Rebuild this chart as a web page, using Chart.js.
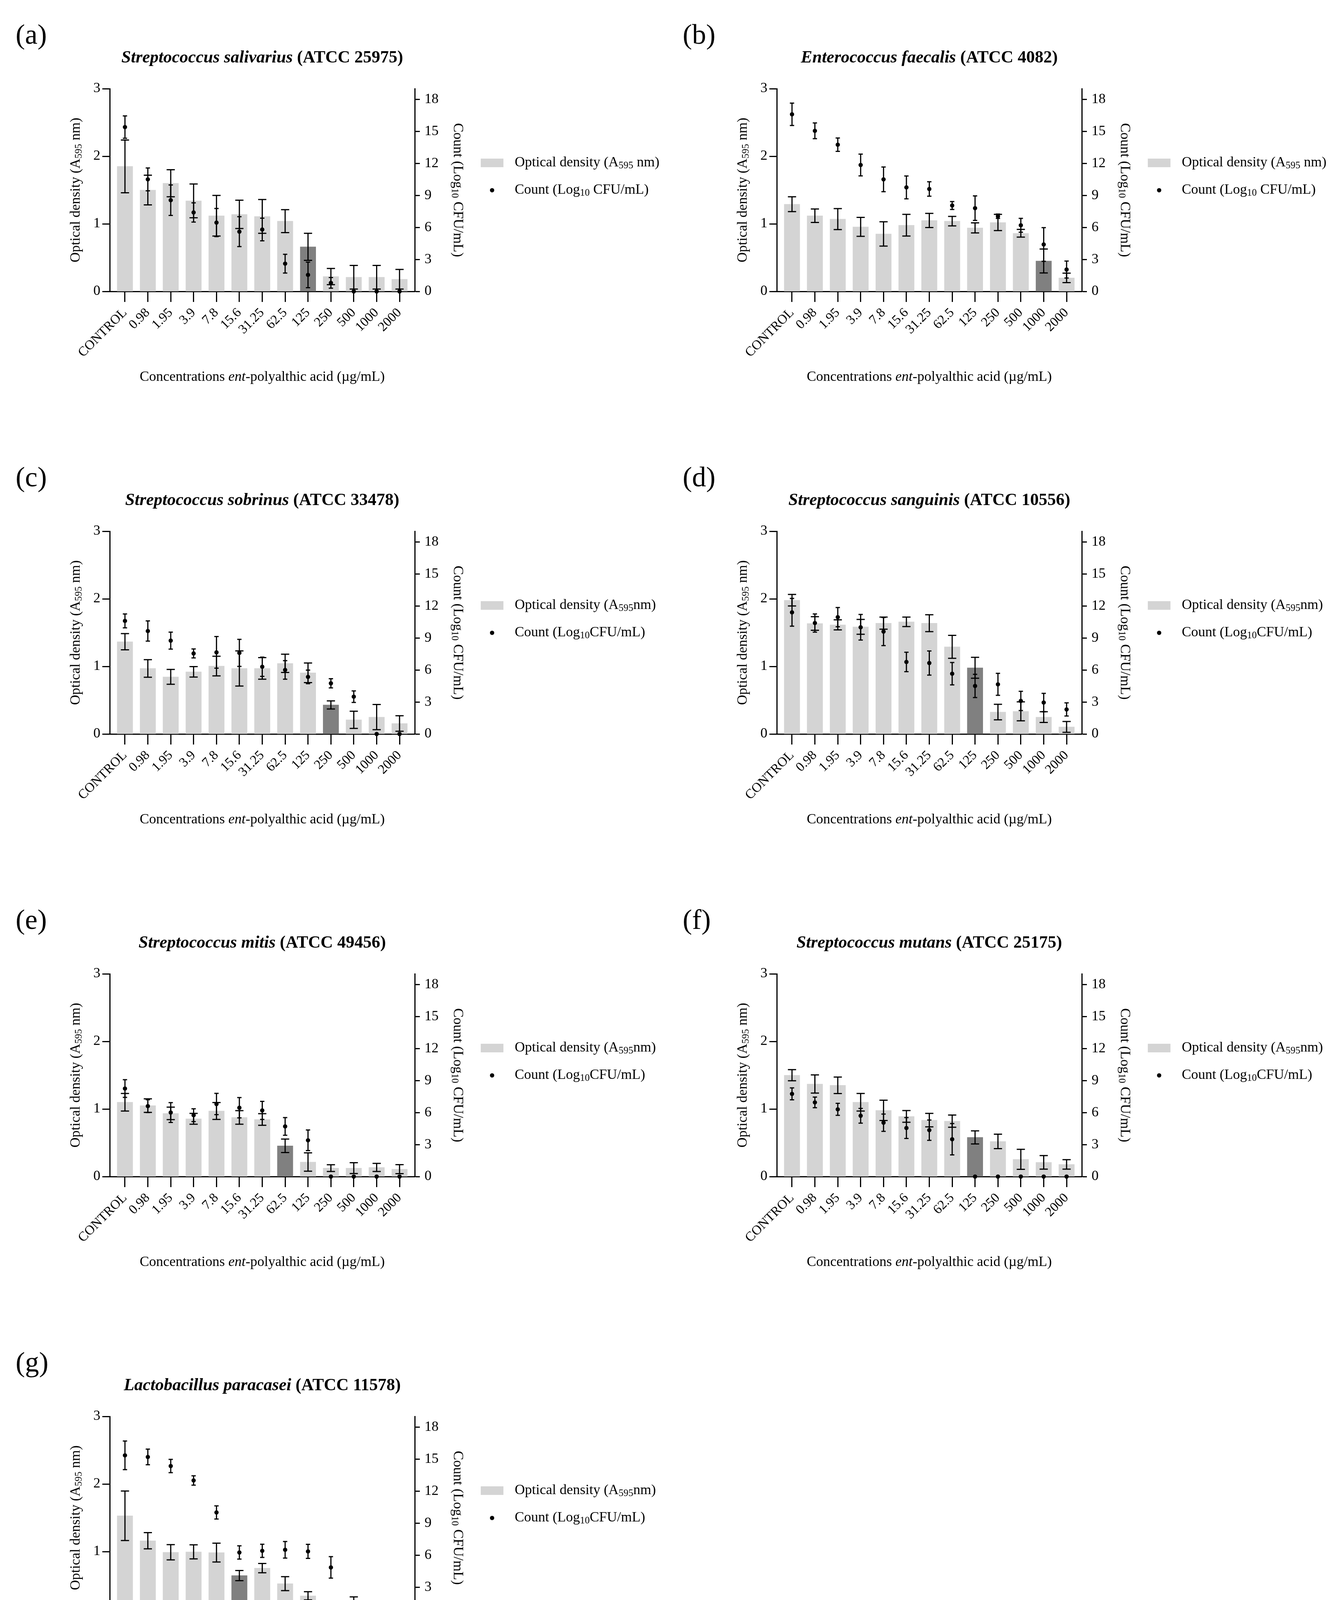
<!DOCTYPE html>
<html>
<head>
<meta charset="utf-8">
<script src="https://cdn.jsdelivr.net/npm/chart.js@4.4.1/dist/chart.umd.min.js"></script>
<style>
  html, body { margin: 0; padding: 0; background: #fff; }
  body { width: 3426px; height: 4424px; position: relative; overflow: hidden; }
  canvas { position: absolute; }
</style>
</head>
<body>
<script>
// ---- data ----
const categories = ['CONTROL', '0.98', '1.95', '3.9', '7.8', '15.6', '31.25', '62.5', '125', '250', '500', '1000', '2000'];
const odTicks = [0, 1, 2, 3];
const countTicks = [0, 3, 6, 9, 12, 15, 18];

const letters = ['(a)', '(b)', '(c)', '(d)', '(e)', '(f)', '(g)'];
const species = ['Streptococcus salivarius', 'Enterococcus faecalis', 'Streptococcus sobrinus', 'Streptococcus sanguinis',
                 'Streptococcus mitis', 'Streptococcus mutans', 'Lactobacillus paracasei'];
const strains = ['(ATCC 25975)', '(ATCC 4082)', '(ATCC 33478)', '(ATCC 10556)', '(ATCC 49456)', '(ATCC 25175)', '(ATCC 11578)'];
const darkBar = [8, 11, 9, 8, 7, 8, 5];
const spacedLegend = [true, true, false, false, false, false, false];

const odA = [1.85, 1.50, 1.60, 1.34, 1.12, 1.14, 1.11, 1.04, 0.66, 0.22, 0.21, 0.21, 0.18];
const odErrA = [0.39, 0.22, 0.20, 0.25, 0.30, 0.21, 0.25, 0.17, 0.20, 0.12, 0.175, 0.175, 0.145];
const countA = [15.4, 10.5, 8.55, 7.4, 6.45, 5.6, 5.8, 2.6, 1.55, 0.8, 0, 0, 0];
const countErrA = [1.05, 1.07, 1.43, 0.9, 1.32, 1.4, 1.06, 0.88, 1.2, 0.5, 0, 0, 0];

const odB = [1.29, 1.12, 1.07, 0.955, 0.85, 0.98, 1.05, 1.04, 0.94, 1.02, 0.86, 0.45, 0.20];
const odErrB = [0.11, 0.10, 0.155, 0.14, 0.18, 0.16, 0.105, 0.07, 0.075, 0.12, 0.057, 0.177, 0.07];
const countB = [16.6, 15.05, 13.75, 11.85, 10.5, 9.75, 9.6, 8.05, 7.8, 7.05, 6.2, 4.4, 2.05];
const countErrB = [1.05, 0.74, 0.63, 1.02, 1.16, 1.07, 0.68, 0.37, 1.15, 0.2, 0.65, 1.58, 0.8];

const odC = [1.365, 0.97, 0.845, 0.92, 1.005, 0.97, 0.97, 1.045, 0.905, 0.43, 0.21, 0.25, 0.155];
const odErrC = [0.12, 0.13, 0.11, 0.077, 0.145, 0.26, 0.16, 0.135, 0.145, 0.06, 0.127, 0.187, 0.115];
const countC = [10.6, 9.65, 8.75, 7.55, 7.65, 7.6, 6.3, 6.0, 5.35, 4.75, 3.5, 0, 0];
const countErrC = [0.65, 0.95, 0.8, 0.42, 1.48, 1.27, 0.9, 0.87, 0.64, 0.43, 0.54, 0, 0];

const odD = [1.98, 1.635, 1.615, 1.585, 1.64, 1.66, 1.64, 1.29, 0.98, 0.325, 0.335, 0.25, 0.105];
const odErrD = [0.085, 0.10, 0.075, 0.11, 0.09, 0.07, 0.125, 0.17, 0.155, 0.115, 0.14, 0.08, 0.08];
const countD = [11.4, 10.4, 10.95, 10.0, 9.6, 6.75, 6.65, 5.65, 4.5, 4.65, 3.1, 2.95, 2.3];
const countErrD = [1.3, 0.85, 0.9, 1.2, 1.32, 0.91, 1.13, 1.05, 1.09, 1.03, 0.9, 0.86, 0.62];

const odE = [1.10, 1.05, 0.935, 0.855, 0.97, 0.875, 0.845, 0.455, 0.215, 0.125, 0.125, 0.135, 0.11];
const odErrE = [0.13, 0.10, 0.093, 0.08, 0.125, 0.10, 0.086, 0.10, 0.136, 0.05, 0.08, 0.06, 0.066];
const countE = [8.25, 6.6, 6.0, 5.75, 6.8, 6.45, 6.2, 4.7, 3.4, 0, 0, 0, 0];
const countErrE = [0.83, 0.6, 0.93, 0.6, 1.0, 0.95, 0.85, 0.83, 0.97, 0, 0, 0, 0];

const odF = [1.50, 1.37, 1.35, 1.10, 0.98, 0.89, 0.835, 0.82, 0.58, 0.52, 0.255, 0.21, 0.18];
const odErrF = [0.082, 0.135, 0.122, 0.13, 0.15, 0.087, 0.10, 0.09, 0.097, 0.107, 0.148, 0.10, 0.07];
const countF = [7.75, 6.95, 6.3, 5.7, 5.05, 4.55, 4.35, 3.5, 0, 0, 0, 0, 0];
const countErrF = [0.56, 0.5, 0.56, 0.69, 0.81, 0.98, 0.95, 1.47, 0, 0, 0, 0, 0];

const odG = [1.53, 1.16, 0.99, 0.995, 0.985, 0.645, 0.755, 0.525, 0.345, 0.185, 0.22, 0.165, 0.115];
const odErrG = [0.366, 0.12, 0.113, 0.104, 0.14, 0.075, 0.068, 0.103, 0.061, 0.042, 0.11, 0.066, 0.076];
const countG = [15.35, 15.2, 14.35, 13.0, 10.0, 6.25, 6.4, 6.5, 6.35, 4.85, 0, 0, 0];
const countErrG = [1.34, 0.73, 0.62, 0.44, 0.62, 0.62, 0.62, 0.78, 0.66, 1.01, 0, 0, 0];

const odSets = [odA, odB, odC, odD, odE, odF, odG];
const odErrSets = [odErrA, odErrB, odErrC, odErrD, odErrE, odErrF, odErrG];
const countSets = [countA, countB, countC, countD, countE, countF, countG];
const countErrSets = [countErrA, countErrB, countErrC, countErrD, countErrE, countErrF, countErrG];

// ---- drawing ----
const FONT = '"Liberation Serif", "Times New Roman", Times, serif';
const W = 1713, H = 1020;
const LIGHT = '#d4d4d4', DARK = '#808080';

Chart.defaults.font.family = FONT;
Chart.defaults.color = '#000';

// draws a row of text pieces (for subscripts / italics)
function drawRuns(ctx, runs, x, y, align) {
  let total = 0;
  runs.forEach(r => {
    ctx.font = (r.style || '') + ' ' + r.size + 'px ' + FONT;
    r.w = ctx.measureText(r.text).width;
    total += r.w;
  });
  let cx = align === 'center' ? x - total / 2 : x;
  ctx.textAlign = 'left';
  ctx.textBaseline = 'middle';
  runs.forEach(r => {
    ctx.font = (r.style || '') + ' ' + r.size + 'px ' + FONT;
    ctx.fillText(r.text, cx, y + (r.dy || 0));
    cx += r.w;
  });
}

function panelPlugin(k) {
  return {
    id: 'panel' + k,
    afterDatasetsDraw(chart) {
      const ctx = chart.ctx;
      const xs = chart.scales.x, ys = chart.scales.y, y2 = chart.scales.y2;
      ctx.save();
      ctx.strokeStyle = '#000';
      ctx.lineWidth = 3;
      const bar = (px, top, bot, half) => {
        ctx.beginPath();
        ctx.moveTo(px, top); ctx.lineTo(px, bot);
        ctx.moveTo(px - half, top); ctx.lineTo(px + half, top);
        ctx.moveTo(px - half, bot); ctx.lineTo(px + half, bot);
        ctx.stroke();
      };
      odSets[k].forEach((v, i) => {
        const e = odErrSets[k][i];
        if (!e) return;
        bar(xs.getPixelForValue(i), ys.getPixelForValue(v + e), ys.getPixelForValue(v - e), 10.5);
      });
      countSets[k].forEach((v, i) => {
        const e = countErrSets[k][i];
        if (!e) return;
        bar(xs.getPixelForValue(i), y2.getPixelForValue(v + e), y2.getPixelForValue(v - e), 5.5);
      });
      ctx.restore();
    },
    afterDraw(chart) {
      const ctx = chart.ctx;
      const a = chart.chartArea;
      const cx = (a.left + a.right) / 2, cy = (a.top + a.bottom) / 2;
      ctx.save();
      ctx.fillStyle = '#000';

      drawRuns(ctx, [{ text: letters[k], size: 72 }], 40, 93, 'left');
      drawRuns(ctx, [
        { text: species[k] + ' ', size: 44, style: 'italic bold' },
        { text: strains[k], size: 44, style: 'bold' }
      ], cx, 149, 'center');

      // left axis title
      ctx.save();
      ctx.translate(195, cy);
      ctx.rotate(-Math.PI / 2);
      drawRuns(ctx, [
        { text: 'Optical density (A', size: 36 },
        { text: '595', size: 25, dy: 7 },
        { text: ' nm)', size: 36 }
      ], 0, 0, 'center');
      ctx.restore();

      // right axis title
      ctx.save();
      ctx.translate(1171, cy);
      ctx.rotate(Math.PI / 2);
      drawRuns(ctx, [
        { text: 'Count (Log', size: 36 },
        { text: '10', size: 25, dy: 7 },
        { text: ' CFU/mL)', size: 36 }
      ], 0, 0, 'center');
      ctx.restore();

      // x axis title
      drawRuns(ctx, [
        { text: 'Concentrations ', size: 36 },
        { text: 'ent', size: 36, style: 'italic' },
        { text: '-polyalthic acid (\u00b5g/mL)', size: 36 }
      ], cx, a.top + 739, 'center');

      // legend
      const ly = a.top + 190;
      ctx.fillStyle = LIGHT;
      ctx.fillRect(1231, ly - 11, 58, 22);
      ctx.fillStyle = '#000';
      const sp = spacedLegend[k] ? ' ' : '';
      drawRuns(ctx, [
        { text: 'Optical density (A', size: 36 },
        { text: '595', size: 25, dy: 7 },
        { text: sp + 'nm)', size: 36 }
      ], 1318, ly, 'left');
      ctx.beginPath();
      ctx.arc(1260, ly + 70, 5.5, 0, Math.PI * 2);
      ctx.fill();
      drawRuns(ctx, [
        { text: 'Count (Log', size: 36 },
        { text: '10', size: 25, dy: 7 },
        { text: sp + 'CFU/mL)', size: 36 }
      ], 1318, ly + 70, 'left');
      ctx.restore();
    }
  };
}

function axisStyle(tickLen) {
  return {
    border: { display: true, color: '#000', width: 3 },
    grid: { display: true, drawOnChartArea: false, drawTicks: true, tickLength: tickLen, tickWidth: 3, tickColor: '#000', offset: false }
  };
}

for (let k = 0; k < 7; k++) {
  const cv = document.createElement('canvas');
  cv.width = W; cv.height = H;
  cv.style.width = W + 'px'; cv.style.height = H + 'px';
  cv.style.left = (k % 2 === 0 ? 0 : 1708) + 'px';
  cv.style.top = (Math.floor(k / 2) * 1133) + 'px';
  document.body.appendChild(cv);

  new Chart(cv, {
    type: 'bar',
    data: {
      datasets: [
        {
          type: 'scatter',
          label: 'Count',
          data: countSets[k].map((v, i) => ({ x: i, y: v })),
          yAxisID: 'y2',
          pointRadius: 5.5,
          pointBackgroundColor: '#000',
          pointBorderWidth: 0,
          clip: false,
          order: 1
        },
        {
          type: 'bar',
          label: 'Optical density',
          data: odSets[k].map((v, i) => ({ x: i, y: v })),
          yAxisID: 'y',
          backgroundColor: odSets[k].map((v, i) => i === darkBar[k] ? DARK : LIGHT),
          borderWidth: 0,
          barThickness: 40,
          order: 2
        }
      ]
    },
    options: {
      responsive: false,
      animation: false,
      devicePixelRatio: 1,
      layout: { padding: { top: 227, left: 0, right: 0, bottom: 0 } },
      plugins: { legend: { display: false }, tooltip: { enabled: false }, title: { display: false } },
      scales: {
        x: {
          type: 'linear',
          position: 'bottom',
          offset: false,
          min: -0.665,
          max: 12.665,
          z: 1,
          afterBuildTicks: s => { s.ticks = categories.map((c, i) => ({ value: i })); },
          afterFit: s => { s.height = H - 227 - 519; },
          ...axisStyle(27),
          ticks: {
            autoSkip: false, minRotation: 45, maxRotation: 45, padding: 8,
            font: { size: 34 }, color: '#000',
            callback: v => categories[v]
          }
        },
        y: {
          position: 'left',
          min: 0, max: 3,
          afterBuildTicks: s => { s.ticks = odTicks.map(v => ({ value: v })); },
          afterFit: s => { s.width = 281; },
          ...axisStyle(19),
          ticks: { padding: 5, font: { size: 36 }, color: '#000' }
        },
        y2: {
          position: 'right',
          min: 0, max: 19,
          afterBuildTicks: s => { s.ticks = countTicks.map(v => ({ value: v })); },
          afterFit: s => { s.width = W - 1062; },
          ...axisStyle(13),
          ticks: { padding: 12, font: { size: 36 }, color: '#000' }
        }
      }
    },
    plugins: [panelPlugin(k)]
  });
}
</script>
</body>
</html>
